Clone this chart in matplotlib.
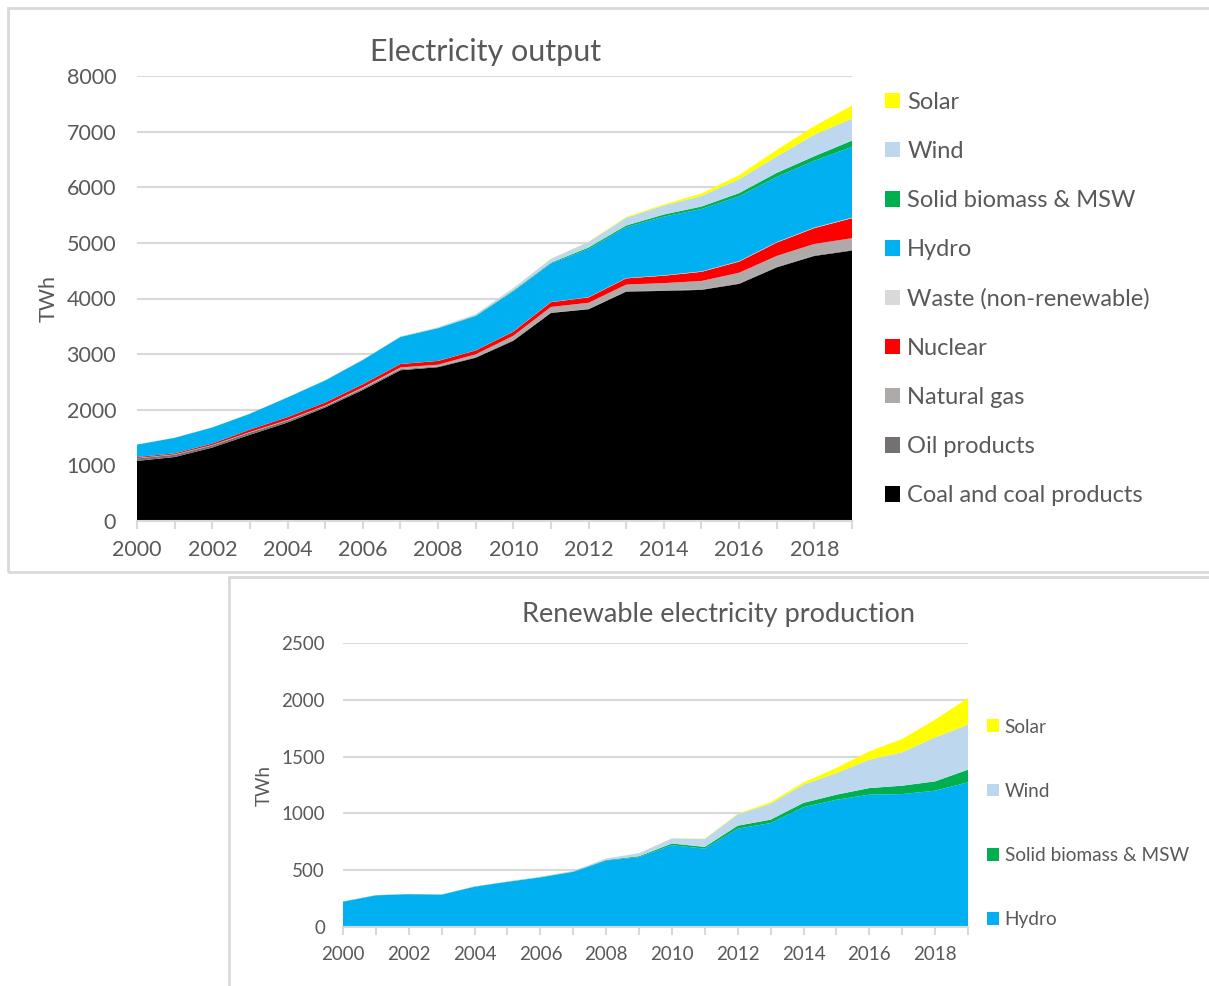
import matplotlib
matplotlib.use("Agg")
import matplotlib.pyplot as plt
from matplotlib.patches import Rectangle

plt.rcParams["font.family"] = ["Lato", "DejaVu Sans"]

years = list(range(2000, 2020))

# TWh
coal = [1080, 1150, 1320, 1550, 1770, 2040, 2355, 2710, 2765, 2935,
        3240, 3740, 3807, 4124, 4137, 4155, 4263, 4560, 4765, 4862]
oil = [47, 40, 38, 40, 35, 24, 27, 20, 14, 11, 13, 8, 6, 6, 10, 10, 10, 10, 11, 12]
gas = [6, 8, 9, 10, 12, 12, 20, 30, 31, 50, 77, 100, 110, 120, 130, 150, 190, 196, 205, 210]
nuclear = [17, 18, 25, 43, 50, 53, 55, 62, 68, 70, 74, 86, 97, 112, 133, 165, 200, 240, 285, 360]
waste = [0, 0, 0, 0, 0, 0, 1, 1, 2, 2, 3, 4, 5, 6, 7, 8, 9, 9, 10, 10]
hydro = [222, 278, 288, 284, 354, 397, 436, 485, 585, 615,
         720, 690, 865, 915, 1055, 1120, 1165, 1170, 1200, 1273]
biomass = [2, 2, 2, 2, 2, 2, 3, 3, 5, 8, 15, 15, 27, 30, 38, 45, 58, 74, 82, 112]
wind = [1, 1, 1, 1, 1, 2, 4, 6, 13, 27, 45, 70, 100, 140, 160, 190, 250, 294, 387, 396]
solar = [0, 0, 0, 0, 0, 0, 0, 0, 0, 0, 1, 3, 5, 14, 20, 45, 73, 117, 156, 235]

all_labels = ["Coal and coal products", "Oil products", "Natural gas", "Nuclear",
              "Waste (non-renewable)", "Hydro", "Solid biomass & MSW", "Wind", "Solar"]
all_colors = ["#000000", "#767171", "#AEAAAA", "#FF0000", "#D9D9D9",
              "#00B0F0", "#00B050", "#BDD7EE", "#FFFF00"]
ren_labels = ["Hydro", "Solid biomass & MSW", "Wind", "Solar"]
ren_colors = ["#00B0F0", "#00B050", "#BDD7EE", "#FFFF00"]

TXT = "#595959"
GRID = "#D9D9D9"

W, H = 1209, 986
fig = plt.figure(figsize=(W / 100, H / 100), dpi=100)


def px_axes(x0, y0, x1, y1):
    # pixel box (from top-left) -> figure axes
    return fig.add_axes([x0 / W, 1 - y1 / H, (x1 - x0) / W, (y1 - y0) / H])


def style_axes(ax, ymax, ystep, fs, ypad):
    ax.set_xlim(2000, 2019)
    ax.set_ylim(0, ymax)
    ax.set_yticks(range(0, ymax + 1, ystep))
    ax.set_xticks(range(2000, 2019, 2))
    ax.set_xticks(range(2000, 2020), minor=True)
    ax.tick_params(axis="y", length=0, labelsize=fs, labelcolor=TXT, pad=ypad)
    ax.tick_params(axis="x", which="both", length=6, color=GRID, width=1.5,
                   labelsize=fs, labelcolor=TXT, pad=8)
    ax.grid(axis="y", color=GRID, lw=1.5)
    ax.set_axisbelow(True)
    for s in ["top", "right", "left"]:
        ax.spines[s].set_visible(False)
    ax.spines["bottom"].set_color(GRID)
    ax.spines["bottom"].set_linewidth(1.5)


# chart frames
fig.add_artist(Rectangle((8 / W, 1 - 572 / H), 1.0, 564 / H, transform=fig.transFigure,
                         fill=False, edgecolor=GRID, lw=2))
fig.add_artist(Rectangle((229 / W, -0.01), 1.0, 409 / H + 0.01, transform=fig.transFigure,
                         fill=False, edgecolor=GRID, lw=2))

# top chart
ax1 = px_axes(137, 76, 852, 521)
ax1.stackplot(years, coal, oil, gas, nuclear, waste, hydro, biomass, wind, solar,
              colors=all_colors, labels=all_labels, lw=0)
style_axes(ax1, 8000, 1000, 15.5, 15)
ax1.set_ylabel("TWh", fontsize=15.5, color=TXT, labelpad=6)
ax1.set_title("Electricity output", fontsize=22, color=TXT, pad=11, x=0.488)
h, l = ax1.get_legend_handles_labels()
ax1.legend(h[::-1], l[::-1], loc="upper left", bbox_to_anchor=(873 / W, 1 - 80 / H),
           bbox_transform=fig.transFigure, frameon=False, fontsize=17,
           handlelength=0.65, handleheight=0.65, handletextpad=0.3,
           labelspacing=1.19, borderpad=0, labelcolor=TXT)

# bottom chart
ax2 = px_axes(343, 643, 968, 927)
ax2.stackplot(years, hydro, biomass, wind, solar, colors=ren_colors, labels=ren_labels, lw=0)
style_axes(ax2, 2500, 500, 13.5, 13)
ax2.set_ylabel("TWh", fontsize=13.5, color=TXT, labelpad=6)
ax2.set_title("Renewable electricity production", fontsize=19.5, color=TXT, pad=15, x=0.6016)
h, l = ax2.get_legend_handles_labels()
ax2.legend(h[::-1], l[::-1], loc="upper left", bbox_to_anchor=(977 / W, 1 - 709 / H),
           bbox_transform=fig.transFigure, frameon=False, fontsize=13.7,
           handlelength=0.65, handleheight=0.65, handletextpad=0.3,
           labelspacing=2.48, borderpad=0, labelcolor=TXT)

fig.savefig("out.png", dpi=100)
